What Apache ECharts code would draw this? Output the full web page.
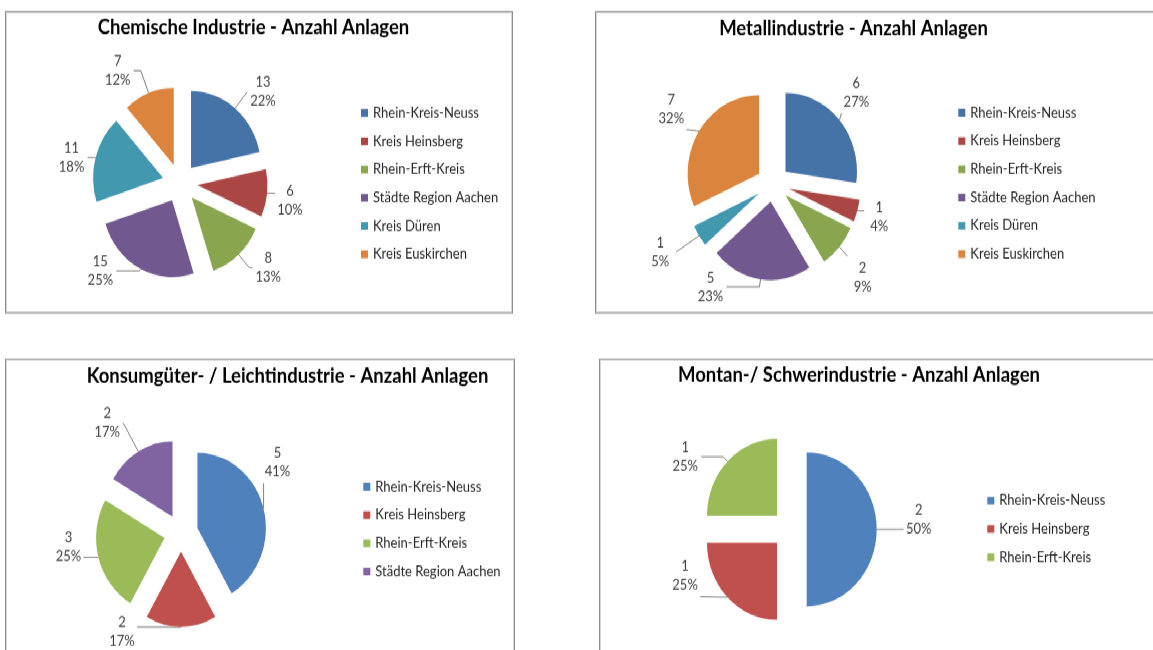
<!DOCTYPE html>
<html>
<head>
<meta charset="utf-8">
<script src="https://cdn.jsdelivr.net/npm/echarts@6/dist/echarts.min.js"></script>
<style>
  html, body { margin: 0; padding: 0; background: #ffffff; overflow: hidden; width: 1153px; height: 650px; }
  #stage { position: absolute; left: 0; top: 0; width: 1153px; height: 591px; transform: scaleY(1.1); transform-origin: 0 0; }
  .panel { position: absolute; box-sizing: border-box; border: 1px solid #8e8e8e; box-shadow: inset 0 0 0 1px #d6d6d6; background: #ffffff; }
  .chart { position: absolute; left: 0; top: 0; width: 100%; height: 100%; }
</style>
</head>
<body>
<div id="stage">
  <div class="panel" style="left:5px;top:10px;width:508px;height:275px;"><div class="chart" id="c1"></div></div>
  <div class="panel" style="left:595px;top:10px;width:580px;height:275px;"><div class="chart" id="c2"></div></div>
  <div class="panel" style="left:5px;top:326px;width:510px;height:300px;"><div class="chart" id="c3"></div></div>
  <div class="panel" style="left:599px;top:326px;width:580px;height:300px;"><div class="chart" id="c4"></div></div>
</div>
<script>
// Regions (Kreise) in slice / legend order
const regionen = ['Rhein-Kreis-Neuss', 'Kreis Heinsberg', 'Rhein-Erft-Kreis', 'Städte Region Aachen', 'Kreis Düren', 'Kreis Euskirchen'];

// Chemische Industrie
const chemieTitel = 'Chemische Industrie - Anzahl Anlagen';
const chemieWerte = [13, 6, 8, 15, 11, 7];
const chemieProzent = [22, 10, 13, 25, 18, 12];

// Metallindustrie
const metallTitel = 'Metallindustrie - Anzahl Anlagen';
const metallWerte = [6, 1, 2, 5, 1, 7];
const metallProzent = [27, 4, 9, 23, 5, 32];

// Konsumgüter- / Leichtindustrie
const konsumTitel = 'Konsumgüter- / Leichtindustrie - Anzahl Anlagen';
const konsumWerte = [5, 2, 3, 2];
const konsumProzent = [41, 17, 25, 17];

// Montan- / Schwerindustrie
const montanTitel = 'Montan-/ Schwerindustrie - Anzahl Anlagen';
const montanWerte = [2, 1, 1];
const montanProzent = [50, 25, 25];

// Palettes: darker 2007 style (top row) and standard office style (bottom row)
const paletteDunkel = ['#4572A7', '#AA4643', '#89A54E', '#71588F', '#4198AF', '#DB843D'];
const paletteHell = ['#4F81BD', '#C0504D', '#9BBB59', '#8064A2'];

const FONT = 'Lato, "Open Sans", sans-serif';
const LABEL_W = 26, LABEL_H = 34, LABEL_ABSTAND = 3;

function pieOption(cfg) {
  const names = regionen.slice(0, cfg.werte.length);
  const data = cfg.werte.map((v, i) => ({
    name: names[i],
    value: v,
    selected: true,
    itemStyle: { color: cfg.farben[i] },
    labelLine: { length: cfg.linien[i][0], length2: cfg.linien[i][1] }
  }));
  // per-label nudges; the leader line is redrawn from the slice edge to the nearest point of the moved label
  const versatz = cfg.versatz || {};
  const labelLayout = p => {
    const n = versatz[p.dataIndex];
    const pts = p.labelLinePoints;
    if (!n || !pts || pts.length < 2) return { hideOverlap: false };
    const E = pts[0];
    const end = pts[pts.length - 1];
    const rechts = p.align ? p.align !== 'right' : end[0] >= E[0];
    const cx = (rechts ? end[0] + LABEL_ABSTAND + LABEL_W / 2 : end[0] - LABEL_ABSTAND - LABEL_W / 2) + n[0];
    const cy = end[1] + n[1];
    const g = 2;
    const x0 = cx - LABEL_W / 2 - g, x1 = cx + LABEL_W / 2 + g;
    const y0 = cy - LABEL_H / 2 - g, y1 = cy + LABEL_H / 2 + g;
    const px = Math.min(Math.max(E[0], x0), x1);
    const py = Math.min(Math.max(E[1], y0), y1);
    return { dx: n[0], dy: n[1], labelLinePoints: [[E[0], E[1]], [px, py]], hideOverlap: false };
  };
  return {
    animation: false,
    graphic: [{
      type: 'text',
      x: cfg.titelX, y: cfg.titelY,
      style: {
        text: cfg.titel,
        font: 'bold ' + cfg.titelGroesse + 'px ' + FONT,
        fill: '#000000',
        textAlign: 'center',
        textVerticalAlign: 'middle'
      }
    }],
    legend: {
      orient: 'vertical',
      left: cfg.legendeX,
      top: cfg.legendeY,
      padding: 0,
      icon: 'rect',
      itemWidth: 7,
      itemHeight: 7,
      itemGap: 11.7,
      selectedMode: false,
      textStyle: { fontFamily: FONT, fontSize: 13, color: '#262626', lineHeight: 14 },
      data: names.map((n, i) => ({ name: n, itemStyle: { color: cfg.farben[i] } }))
    },
    series: [{
      type: 'pie',
      radius: cfg.radius,
      center: cfg.center,
      startAngle: 90,
      clockwise: true,
      selectedMode: 'multiple',
      selectedOffset: cfg.offset,
      avoidLabelOverlap: false,
      emphasis: { disabled: true },
      itemStyle: { borderWidth: 0 },
      label: {
        show: true,
        position: 'outside',
        distanceToLabelLine: LABEL_ABSTAND,
        formatter: p => '{a|' + p.value + '}\n{a|' + cfg.prozent[p.dataIndex] + '%}',
        rich: {
          a: { width: LABEL_W, align: 'center', fontFamily: FONT, fontSize: 13, color: '#404040', lineHeight: LABEL_H / 2 }
        }
      },
      labelLine: {
        show: true,
        lineStyle: { color: '#7f7f7f', width: 1 }
      },
      labelLayout: labelLayout,
      data: data
    }]
  };
}

const charts = [
  { id: 'c1', titel: chemieTitel, werte: chemieWerte, prozent: chemieProzent, farben: paletteDunkel,
    titelX: 247.5, titelY: 14.5, titelGroesse: 18.5, center: [174, 155.4], radius: 70, offset: 17.5,
    legendeX: 355, legendeY: 84.7,
    linien: [[19, 0], [7, 0], [16, 3], [2, 23], [2, 6], [22, 7]],
    versatz: { 1: [0, 6] } },
  { id: 'c2', titel: metallTitel, werte: metallWerte, prozent: metallProzent, farben: paletteDunkel,
    titelX: 257.5, titelY: 15.4, titelGroesse: 18.5, center: [177, 155.8], radius: 71.5, offset: 16.5,
    legendeX: 362.3, legendeY: 84.5,
    linien: [[17, 0], [6, 0], [24, 0], [7, 33], [27, 0], [21, 0]],
    versatz: { 0: [-12, -14], 1: [0, 4], 2: [-11, 12], 5: [6, -9] } },
  { id: 'c3', titel: konsumTitel, werte: konsumWerte, prozent: konsumProzent, farben: paletteHell,
    titelX: 281.5, titelY: 14.8, titelGroesse: 18.5, center: [175, 157.5], radius: 68.5, offset: 17,
    legendeX: 357.3, legendeY: 108.5,
    linien: [[4, 0], [4, 4], [2, 12], [30, 0]],
    versatz: { 0: [-6, -41], 1: [-79, 0], 2: [0, -10] } },
  { id: 'c4', titel: montanTitel, werte: montanWerte, prozent: montanProzent, farben: paletteHell,
    titelX: 259, titelY: 13.9, titelGroesse: 18.5, center: [189.3, 154.2], radius: 70, offset: 17.4,
    legendeX: 387.3, legendeY: 121.2,
    linien: [[12, 12], [2, 24], [6, 22]],
    versatz: { 0: [2, -9], 1: [-1, -21] } }
];

charts.forEach(cfg => {
  const chart = echarts.init(document.getElementById(cfg.id), null, { renderer: 'canvas' });
  chart.setOption(pieOption(cfg));
});
</script>
</body>
</html>
